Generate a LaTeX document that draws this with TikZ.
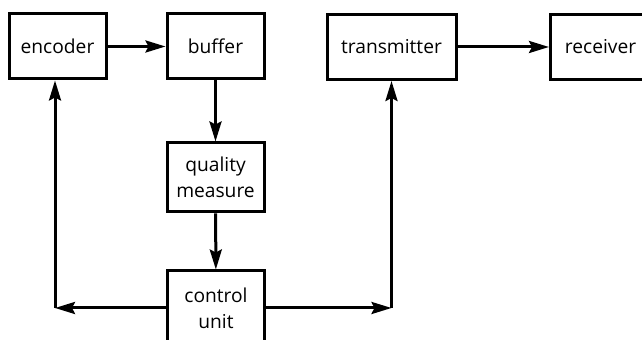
\documentclass[tikz,border=0pt]{standalone}
\usepackage{fontspec}
\setmainfont{Open Sans}
\usetikzlibrary{arrows.meta}
\begin{document}
\begin{tikzpicture}[x=0.5pt,y=-0.5pt]

	\tikzset{block/.style={draw, line width=1.5pt, inner sep=0pt, align=center, minimum width=48.5pt, minimum height=32.5pt, font=\fontsize{9.6}{13}\selectfont}}
	\tikzset{flow/.style={line width=1.5pt, -{Stealth[length=10pt,width=6pt,inset=1.5pt]}}}

	\useasboundingbox (0,0) rectangle (642,340);

	\node[block] (enc) at (57.5,46.5) {encoder};
	\node[block] (buf) at (215.5,46.5) {buffer};
	\node[block, minimum width=64.5pt] (trans) at (391.5,47) {transmitter};
	\node[block, minimum width=50pt] (recv) at (600.5,47) {receiver};
	\node[block, minimum height=34.5pt] (qual) at (215.5,177.5) {quality\\measure};
	\node[block, minimum height=37pt] (ctrl) at (216,308) {control\\unit};

	\coordinate (cl) at (55,308);
	\coordinate (cr) at (391.5,308);

	\draw[flow] (enc) -- (buf);
	\draw[flow] (trans) -- (trans -| recv.west);
	\draw[flow] (buf) -- (qual);
	\draw[flow] (qual) -- (ctrl);

	\draw[flow] (ctrl) -- (cl);
	\draw[flow] (cl) -- (cl |- enc.south);
	\draw[flow] (ctrl) -- (cr);
	\draw[flow] (cr) -- (trans.south);

\end{tikzpicture}
\end{document}
